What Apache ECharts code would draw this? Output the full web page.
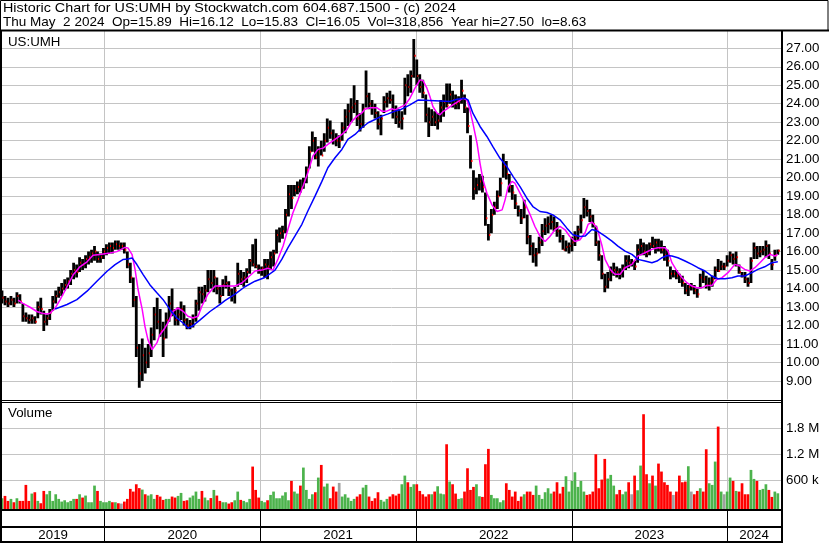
<!DOCTYPE html>
<html><head><meta charset="utf-8">
<script src="https://cdn.jsdelivr.net/npm/echarts@6/dist/echarts.min.js"></script>
<style>html,body{margin:0;padding:0;background:#fff;}#c{width:830px;height:543px;}</style>
</head><body><div id="c"></div>
<script>
// ---------- DATA (weekly, week 0 = startDate) ----------
const startDate = '2019-05-06';
const years = [2019, 2020, 2021, 2022, 2023, 2024];
const titleLine1 = 'Historic Chart for US:UMH by Stockwatch.com 604.687.1500 - (c) 2024';
const titleLine2 = 'Thu May  2 2024  Op=15.89  Hi=16.12  Lo=15.83  Cl=16.05  Vol=318,856  Year hi=27.50  lo=8.63';
const symbolLabel = 'US:UMH';
const volumeLabel = 'Volume';

const lows = [
13.2,13.1,13.0,13.1,13.0,13.2,13.2,12.2,12.2,12.1,
12.1,12.1,12.4,12.6,11.7,12.0,12.3,12.8,13.2,13.5,
13.6,13.9,14.0,14.2,14.5,14.6,14.9,15.0,15.1,15.3,
15.4,15.5,15.4,15.4,15.6,15.8,15.9,15.9,16.1,16.1,
16.1,15.9,15.1,14.3,13.0,10.3,8.63,9.0,9.4,9.7,
10.3,11.2,11.8,11.4,10.3,11.3,12.2,12.5,12.0,12.0,
12.3,12.0,11.8,11.8,11.9,12.2,12.8,13.2,13.3,13.8,
14.0,13.8,13.7,13.2,13.6,14.0,13.6,13.3,13.2,14.1,
14.2,14.1,14.3,14.8,15.2,15.1,14.8,14.7,14.6,14.5,
15.0,15.2,15.9,16.5,16.7,17.0,17.9,18.3,19.0,19.1,
19.2,19.4,19.7,20.5,21.4,21.0,20.6,21.2,21.4,21.9,
22.1,21.8,21.7,21.6,22.0,22.4,22.8,23.0,23.5,22.8,
22.5,22.7,23.8,23.7,23.4,23.2,22.6,22.3,23.5,23.8,
24.0,23.2,22.9,22.7,22.6,23.4,24.4,24.6,25.4,25.0,
24.6,24.3,23.0,22.2,22.8,22.8,22.6,23.0,23.3,23.8,
24.0,23.8,23.7,23.7,24.0,23.5,22.4,20.5,18.8,19.1,
19.3,19.2,17.4,16.6,17.0,18.0,18.3,19.0,20.0,19.9,
19.2,18.8,18.3,17.9,17.5,17.8,16.4,15.8,15.4,15.2,
15.9,16.3,16.9,17.0,17.2,17.1,16.8,16.5,16.1,16.0,
15.9,16.0,16.3,16.6,17.0,17.8,17.9,17.6,17.3,16.3,
15.5,14.5,13.8,14.0,14.4,14.7,14.6,14.5,14.6,15.0,
15.1,15.2,15.0,15.4,15.8,15.8,15.7,15.8,16.2,15.9,
16.0,15.9,15.5,15.2,14.5,14.6,14.5,14.3,14.1,13.7,
13.6,13.9,13.7,13.5,14.0,14.3,14.0,13.9,14.1,14.5,
14.9,15.0,15.0,15.2,15.4,15.3,15.2,14.8,14.6,14.3,
14.1,14.3,15.6,15.6,15.7,15.8,15.7,15.6,15.0,15.5,
15.83];

const highs = [
13.9,13.6,13.5,13.6,13.5,13.8,13.7,13.2,12.7,12.6,
12.6,12.5,13.3,13.5,12.8,12.6,12.9,13.6,13.9,14.1,
14.3,14.5,14.6,15.0,15.4,15.3,15.7,15.6,15.8,16.0,
16.1,16.3,16.0,15.9,16.2,16.4,16.5,16.5,16.6,16.6,
16.5,16.5,16.0,15.4,14.6,13.6,11.0,11.3,10.8,11.0,
11.9,13.0,13.5,12.9,12.2,12.7,13.6,14.0,12.9,13.0,
13.3,13.1,12.4,12.3,12.6,13.4,14.1,14.1,14.2,15.0,
15.0,15.0,14.6,14.1,14.5,14.7,14.4,14.0,14.1,15.4,
15.0,14.9,15.1,15.6,16.4,16.7,15.3,15.2,15.6,15.6,
16.0,16.1,17.2,17.3,17.4,18.3,19.6,19.6,19.6,19.8,
19.9,20.0,20.6,21.7,22.5,22.2,21.7,22.0,22.4,23.2,
23.1,22.6,22.4,22.3,23.0,23.7,24.0,24.3,25.0,24.2,
23.5,24.0,25.8,24.6,24.2,24.0,23.6,23.4,24.4,24.6,
24.7,24.5,23.9,23.7,23.6,25.4,25.6,25.8,27.5,26.4,
25.6,25.3,24.5,23.8,23.7,23.6,23.5,24.2,24.5,25.1,
25.1,24.7,24.5,24.4,25.3,24.5,23.8,22.3,20.4,20.0,
20.2,20.1,19.2,17.5,18.3,18.7,19.3,20.0,21.3,20.9,
20.2,19.6,19.1,18.5,18.3,18.8,18.0,16.9,16.5,16.2,
16.8,17.5,17.8,17.9,18.0,17.9,17.6,17.2,16.9,16.6,
16.5,16.8,17.1,17.4,18.0,18.9,18.8,18.3,18.0,17.4,
16.6,15.8,14.8,14.9,15.2,15.4,15.2,15.1,15.3,15.8,
15.8,15.6,15.5,16.4,16.7,16.5,16.4,16.5,16.8,16.7,
16.7,16.6,16.3,16.1,15.2,15.0,15.0,14.8,14.7,14.3,
14.2,14.3,14.2,14.0,14.8,15.0,14.7,14.6,14.7,15.2,
15.6,15.5,15.4,15.8,16.0,15.9,16.0,15.3,14.9,14.9,
14.6,15.7,16.5,16.3,16.3,16.3,16.6,16.4,15.6,16.1,
16.12];

const closes = [
13.5,13.3,13.2,13.4,13.2,13.6,13.3,12.5,12.4,12.3,
12.4,12.2,13.0,12.9,12.2,12.4,12.7,13.3,13.6,13.8,
14.0,14.2,14.4,14.8,15.0,14.9,15.4,15.3,15.6,15.7,
15.9,16.0,15.6,15.7,16.0,16.2,16.3,16.2,16.4,16.3,
16.3,16.1,15.3,14.6,13.4,10.8,9.4,10.4,10.0,10.5,
11.5,12.6,12.2,11.7,11.3,12.3,13.2,12.8,12.3,12.6,
12.9,12.3,12.0,12.1,12.4,13.2,13.8,13.7,13.9,14.5,
14.3,14.6,14.0,13.6,14.2,14.3,13.9,13.6,13.9,14.8,
14.5,14.6,14.9,15.5,15.3,15.2,15.0,15.1,15.3,15.2,
15.7,15.9,16.9,17.0,17.1,18.0,19.1,18.9,19.3,19.5,
19.4,19.8,20.4,21.4,22.0,21.1,21.4,21.2,22.0,22.7,
22.4,22.1,22.0,22.0,22.7,23.3,23.6,23.8,24.0,23.2,
22.9,23.7,24.4,24.0,23.8,23.5,22.9,23.2,24.1,24.3,
24.2,23.6,23.3,23.0,23.2,25.0,24.9,25.5,26.6,25.5,
24.9,24.6,23.4,23.0,23.3,23.0,23.1,23.8,24.1,23.9,
24.5,24.2,24.0,24.1,24.7,23.8,22.8,20.9,19.4,19.6,
19.8,19.5,17.8,16.9,18.0,18.4,19.0,19.7,20.6,20.2,
19.5,19.2,18.6,18.2,17.8,18.4,16.8,16.3,15.8,15.9,
16.5,17.1,17.4,17.5,17.6,17.3,17.1,16.7,16.1,16.25,
16.3,16.5,16.8,17.2,17.7,18.4,18.2,17.9,17.5,16.5,
15.8,14.8,14.1,14.5,14.9,15.0,14.9,14.8,15.1,15.5,
15.4,15.4,15.2,16.1,16.3,16.0,15.9,16.4,16.3,16.5,
16.2,16.1,15.8,15.5,14.8,14.8,14.7,14.5,14.3,13.9,
14.1,14.1,13.9,13.7,14.6,14.5,14.2,14.3,14.5,15.0,
14.95,15.2,15.2,15.5,15.8,15.6,15.7,14.9,14.7,14.5,
14.3,15.5,16.2,15.9,16.0,16.1,16.3,15.9,15.3,15.8,
16.05];

// volume in thousands
const volumes = [
186,240,125,171,94,186,125,125,494,125,
294,325,125,71,355,278,355,125,278,171,
109,140,94,125,171,171,278,202,248,94,
94,478,355,125,94,94,125,94,94,71,
63,109,171,402,340,509,420,386,278,248,
278,171,263,225,148,171,171,225,202,240,
309,125,140,202,248,340,171,355,202,140,
190,378,248,125,94,94,63,94,140,340,
148,125,94,171,917,378,202,125,94,140,
263,340,186,186,248,325,140,586,340,294,
478,894,378,171,278,325,663,955,455,525,
186,455,340,540,225,278,200,125,171,225,
278,432,494,225,125,186,325,148,109,171,
225,278,248,290,509,709,555,448,509,509,
355,278,225,278,278,340,463,294,278,1432,
571,509,294,171,186,340,878,378,448,509,
232,217,971,1325,263,186,186,94,140,532,
378,225,340,125,225,278,340,340,263,478,
263,171,325,417,294,340,555,294,448,694,
340,586,786,448,586,340,263,278,340,1201,
417,617,1094,640,725,478,278,378,278,340,
555,278,709,371,940,2125,740,532,709,478,
986,802,555,494,340,263,340,709,555,571,
925,340,278,355,417,340,1317,532,494,1032,
1840,340,278,340,663,586,355,340,532,278,
278,840,632,586,378,402,509,378,217,340,
300];

// moving averages (week position, value)
const pinkWeeks = [5.4,7.0,9.4,11.7,13.4,15.1,16.1,17.8,19.4,21.8,
23.8,26.1,28.5,30.5,32.8,36.2,38.5,41.2,42.2,43.6,
44.6,45.6,47.0,47.9,48.9,50.3,50.6,51.9,52.9,54.6,
55.6,57.3,59.0,60.7,62.3,64.0,65.7,67.0,69.0,71.4,
73.7,75.7,78.1,80.4,82.4,84.8,87.1,89.1,90.8,92.5,
94.2,95.8,97.5,99.2,100.9,102.5,104.2,105.9,107.6,109.2,
111.6,113.9,115.6,117.3,119.0,120.6,121.6,123.3,125.7,127.3,
129.0,130.7,131.7,133.4,135.1,136.7,138.4,140.1,141.1,142.4,
143.4,144.4,145.8,146.8,147.8,149.5,151.1,152.8,154.5,155.8,
156.8,157.8,159.2,160.2,161.2,162.5,164.2,165.9,167.6,168.6,
169.6,170.9,171.9,173.6,175.3,177.0,178.6,180.3,182.0,183.6,
185.3,187.0,188.7,190.3,192.0,193.7,195.4,196.4,197.7,199.4,
201.1,202.1,203.8,205.4,207.1,208.8,211.1,213.1,215.5,217.8,
219.8,222.2,223.2,224.5,226.2,227.9,229.5,231.2,232.9,234.6,
236.2,237.9,239.6,241.3,243.3,245.6,247.3,248.9,250.6,252.3,
254.0,255.6,257.4,259.0,260.0];
const pinkVals = [13.38,13.2,12.99,12.76,12.67,12.63,12.67,12.94,13.38,14.1,
14.73,15.18,15.45,15.8,15.84,15.93,16.0,16.23,16.2,15.84,
15.03,13.95,12.86,11.96,11.24,10.7,10.6,11.06,11.5,11.87,
12.14,12.77,12.95,12.77,12.5,12.41,12.5,13.06,13.7,14.14,
14.14,14.14,14.14,14.3,14.6,14.95,15.0,15.1,15.0,15.6,
16.3,17.2,18.1,18.8,19.55,20.27,21.17,21.53,21.6,21.8,
22.07,22.34,22.6,23.06,23.33,23.5,23.7,23.78,23.78,23.6,
23.6,23.73,23.67,23.8,23.94,24.3,24.84,25.29,25.25,24.84,
24.39,23.85,23.49,23.4,23.58,23.76,23.94,24.12,24.3,24.2,
23.67,22.95,21.86,20.78,19.88,19.16,18.53,18.17,18.26,18.8,
19.5,19.8,19.7,19.16,18.62,17.99,17.36,16.82,16.55,16.82,
17.18,17.36,17.18,16.82,16.55,16.64,17.02,17.47,17.6,17.29,
16.3,15.58,15.04,14.77,14.77,15.13,15.31,15.76,15.94,16.12,
16.21,16.21,16.03,15.4,14.95,14.59,14.32,14.14,14.05,14.05,
14.17,14.17,14.5,14.59,14.86,15.31,15.22,15.04,14.95,15.13,
15.4,15.67,15.85,15.76,15.85];

const blueWeeks = [17.8,21.8,25.1,28.5,31.8,35.2,37.9,40.5,42.2,43.6,
45.2,47.3,49.6,51.9,54.0,56.3,58.6,60.7,62.3,63.7,
66.4,69.7,73.1,74.7,78.1,81.4,84.8,88.1,91.5,93.8,
95.8,98.2,100.5,102.5,104.9,107.2,109.2,111.6,113.9,115.9,
118.3,120.6,122.7,125.0,127.3,129.4,131.7,133.4,136.7,139.4,
143.4,150.1,152.5,155.2,156.2,157.8,160.2,162.5,164.5,166.9,
169.2,171.3,173.6,175.9,177.9,180.3,182.6,184.6,187.0,189.3,
191.3,193.7,195.4,197.7,199.7,202.1,204.4,206.4,208.8,211.1,
213.1,215.5,217.8,219.5,221.2,222.9,224.5,226.5,228.9,231.2,
233.2,235.6,237.9,239.9,242.3,244.6,246.6,248.9,251.3,253.3,
255.6,258.0,260.0];
const blueVals = [12.9,13.14,13.4,13.86,14.4,14.94,15.3,15.57,15.6,15.66,
15.3,14.76,14.2,13.77,13.4,12.86,12.41,12.14,11.87,11.96,
12.31,12.76,13.15,13.35,13.7,14.1,14.4,14.6,15.0,15.59,
16.2,16.85,17.48,18.2,19.0,19.8,20.54,21.08,21.53,22.07,
22.34,22.7,22.97,23.15,23.33,23.45,23.6,23.67,23.94,24.2,
24.17,24.12,24.24,24.3,24.2,23.49,22.77,22.23,21.68,21.05,
20.6,20.06,19.52,18.89,18.44,18.17,18.12,17.99,17.72,17.27,
16.91,16.82,16.84,17.2,17.1,16.84,16.57,16.3,16.03,15.85,
15.58,15.49,15.4,15.49,15.67,15.79,15.76,15.67,15.49,15.31,
15.13,14.95,14.68,14.53,14.53,14.59,14.68,14.68,14.86,15.04,
15.18,15.4,15.45];

const priceMin = 8, priceMax = 28, priceStep = 1;
const volTicks = [600, 1200, 1800];
const volTickLabels = ['600 k', '1.2 M', '1.8 M'];

// ---------- BUILD ----------
const FONT = '13.3px "Liberation Sans", Arial, sans-serif';
const GRID = '#c4c4c4';
const DAY = 86400000;
const t0 = Date.parse(startDate + 'T00:00:00Z');
const yearPos = years.map(y => (Date.UTC(y, 0, 1) - t0) / (7 * DAY));
const xMin = 0, xMax = 261.06;

const ohlc = lows.map((l, i) => [i, l, highs[i], closes[i]]);
const volData = volumes.map((v, i) => {
  const d = i === 0 ? 1 : Math.sign(closes[i] - closes[i - 1]);
  return [i, v, d];
});
const yearLines = yearPos.filter(p => p > 0);
const yearCells = years.map((y, i) => [Math.max(xMin, yearPos[i]), i + 1 < years.length ? yearPos[i + 1] : xMax, y]);

function vline(params, api) {
  const x = Math.round(api.coord([api.value(0), api.value(1)])[0]) + 0.5;
  const cs = params.coordSys;
  return { type: 'line', shape: { x1: x, y1: cs.y, x2: x, y2: cs.y + cs.height }, style: { stroke: GRID, lineWidth: 1 } };
}

const chart = echarts.init(document.getElementById('c'), null, { renderer: 'canvas' });
chart.setOption({
  animation: false,
  backgroundColor: '#fff',
  grid: [
    { left: 2, right: 49, top: 29.8, bottom: 143.5 },
    { left: 2, right: 49, top: 403, bottom: 34 },
    { left: 2, right: 49, top: 511, bottom: 1 }
  ],
  xAxis: [0, 1, 2].map(g => ({ type: 'value', gridIndex: g, min: xMin, max: xMax, show: false })),
  yAxis: [
    { type: 'value', gridIndex: 0, min: priceMin, max: priceMax, interval: priceStep, position: 'right',
      axisLine: { show: false }, axisTick: { show: false },
      axisLabel: { margin: 5, color: '#000', fontSize: 13.3, fontFamily: '"Liberation Sans", Arial, sans-serif',
        showMinLabel: false, showMaxLabel: false, formatter: v => v.toFixed(2) },
      splitLine: { show: true, showMinLine: false, showMaxLine: false, lineStyle: { color: GRID, width: 1 } } },
    { type: 'value', gridIndex: 1, min: -62, max: 2384, show: false },
    { type: 'value', gridIndex: 2, min: 0, max: 1, show: false }
  ],
  series: [
    { type: 'custom', xAxisIndex: 0, yAxisIndex: 0, z: 1, silent: true, data: yearLines.map(p => [p, 10]), renderItem: vline },
    { type: 'custom', xAxisIndex: 1, yAxisIndex: 1, z: 1, silent: true, data: yearLines.map(p => [p, 0]), renderItem: vline },
    { type: 'custom', xAxisIndex: 1, yAxisIndex: 1, z: 1, silent: true,
      data: volTicks.map((v, i) => [0, v, i]),
      renderItem: (params, api) => {
        const cs = params.coordSys;
        const y = Math.round(api.coord([0, api.value(1)])[1]) + 0.5;
        return { type: 'group', children: [
          { type: 'line', shape: { x1: cs.x, y1: y, x2: cs.x + cs.width, y2: y }, style: { stroke: GRID, lineWidth: 1 } },
          { type: 'text', style: { text: volTickLabels[api.value(2)], x: cs.x + cs.width + 5, y: y, align: 'left', verticalAlign: 'middle', font: FONT, fill: '#000' } }
        ] };
      } },
    { type: 'custom', xAxisIndex: 0, yAxisIndex: 0, z: 2, silent: true, clip: true, data: ohlc,
      renderItem: (params, api) => {
        const w = api.value(0);
        const lo = api.coord([w, api.value(1)]);
        const hi = api.coord([w, api.value(2)]);
        const cl = api.coord([w, api.value(3)]);
        return { type: 'group', children: [
          { type: 'rect', shape: { x: lo[0] - 1.4, y: hi[1], width: 2.8, height: Math.max(1, lo[1] - hi[1]) }, style: { fill: '#000' } },
          { type: 'rect', shape: { x: cl[0] + 0.6, y: cl[1] - 1, width: 1.4, height: 2 }, style: { fill: '#ff0000' } }
        ] };
      } },
    { type: 'line', xAxisIndex: 0, yAxisIndex: 0, z: 3, silent: true, showSymbol: false, symbol: 'none',
      data: pinkWeeks.map((w, i) => [w, pinkVals[i]]), lineStyle: { color: '#ff00ff', width: 1.5 } },
    { type: 'line', xAxisIndex: 0, yAxisIndex: 0, z: 3, silent: true, showSymbol: false, symbol: 'none',
      data: blueWeeks.map((w, i) => [w, blueVals[i]]), lineStyle: { color: '#0000ff', width: 1.5 } },
    { type: 'custom', xAxisIndex: 1, yAxisIndex: 1, z: 2, silent: true, clip: true, data: volData,
      renderItem: (params, api) => {
        const cs = params.coordSys;
        const top = api.coord([api.value(0), api.value(1)]);
        const d = api.value(2);
        const col = d > 0 ? '#4cb34c' : (d < 0 ? '#ff0000' : '#a0a0a0');
        const bottom = cs.y + cs.height;
        return { type: 'rect', shape: { x: top[0] - 1.35, y: top[1], width: 2.7, height: bottom - top[1] }, style: { fill: col } };
      } },
    { type: 'custom', xAxisIndex: 2, yAxisIndex: 2, z: 2, silent: true, data: yearCells,
      renderItem: (params, api) => {
        const cs = params.coordSys;
        const s = api.coord([api.value(0), 0.5]);
        const e = api.coord([api.value(1), 0.5]);
        const children = [
          { type: 'text', style: { text: String(api.value(2)), x: (s[0] + e[0]) / 2, y: 535, align: 'center', verticalAlign: 'middle', font: FONT, fill: '#000' } }
        ];
        if (params.dataIndex > 0) {
          const x = Math.round(s[0]) + 0.5;
          children.push({ type: 'line', shape: { x1: x, y1: cs.y, x2: x, y2: cs.y + cs.height }, style: { stroke: '#000', lineWidth: 1 } });
        }
        return { type: 'group', children };
      } }
  ],
  graphic: [
    { type: 'rect', z: 100, shape: { x: 0.5, y: 0.5, width: 827.5, height: 30 }, style: { fill: '#fff', stroke: '#000', lineWidth: 1 } },
    { type: 'line', z: 101, shape: { x1: 0, y1: 30.5, x2: 829, y2: 30.5 }, style: { stroke: '#000', lineWidth: 2 } },
    { type: 'text', z: 101, x: 3, y: 8.5, scaleX: 1.079, style: { text: titleLine1, x: 0, y: 0, verticalAlign: 'middle', font: FONT, fill: '#000' } },
    { type: 'text', z: 101, x: 3, y: 22, scaleX: 1.017, style: { text: titleLine2, x: 0, y: 0, verticalAlign: 'middle', font: FONT, fill: '#000' } },
    { type: 'line', z: 101, shape: { x1: 1, y1: 30, x2: 1, y2: 543 }, style: { stroke: '#000', lineWidth: 2 } },
    { type: 'line', z: 101, shape: { x1: 782, y1: 30, x2: 782, y2: 543 }, style: { stroke: '#000', lineWidth: 2 } },
    { type: 'line', z: 101, shape: { x1: 0, y1: 400.5, x2: 782, y2: 400.5 }, style: { stroke: '#000', lineWidth: 1 } },
    { type: 'line', z: 101, shape: { x1: 0, y1: 402.5, x2: 782, y2: 402.5 }, style: { stroke: '#000', lineWidth: 1 } },
    { type: 'line', z: 101, shape: { x1: 0, y1: 510, x2: 782, y2: 510 }, style: { stroke: '#000', lineWidth: 2 } },
    { type: 'line', z: 101, shape: { x1: 0, y1: 527, x2: 782, y2: 527 }, style: { stroke: '#000', lineWidth: 2 } },
    { type: 'line', z: 101, shape: { x1: 0, y1: 542, x2: 782, y2: 542 }, style: { stroke: '#000', lineWidth: 2 } },
    { type: 'text', z: 101, style: { text: symbolLabel, x: 8, y: 42, verticalAlign: 'middle', font: FONT, fill: '#000' } },
    { type: 'text', z: 101, style: { text: volumeLabel, x: 8, y: 413, verticalAlign: 'middle', font: FONT, fill: '#000' } }
  ]
});
</script>
</body></html>
